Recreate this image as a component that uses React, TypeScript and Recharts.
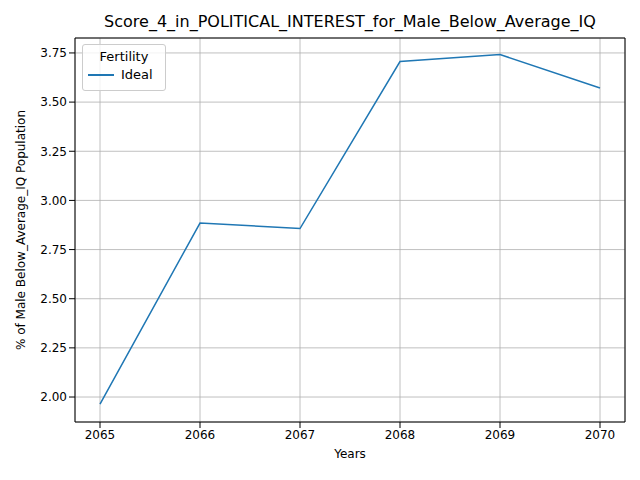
import { LineChart, Line, XAxis, YAxis, CartesianGrid } from 'recharts'

const years = [2065, 2066, 2067, 2068, 2069, 2070]
const ideal = [1.964, 2.885, 2.857, 3.706, 3.742, 3.572]
const yTicks = [2.0, 2.25, 2.5, 2.75, 3.0, 3.25, 3.5, 3.75]

const data = years.map((y, i) => ({ year: y, ideal: ideal[i] }))

const font = 'DejaVu Sans'

const App = () => {
  return (
    <div style={{ position: 'absolute', left: 0, top: 0, width: 640, height: 480, background: '#fff', fontFamily: font }}>
      <div style={{ position: 'absolute', top: 12, left: 75, width: 550, textAlign: 'center', fontSize: 16, color: '#000' }}>
        Score_4_in_POLITICAL_INTEREST_for_Male_Below_Average_IQ
      </div>
      <LineChart width={640} height={480} data={data} margin={{ top: 38, right: 15, left: 15, bottom: 18 }}>
        <CartesianGrid stroke="#b0b0b0" strokeWidth={0.8} />
        <XAxis
          dataKey="year"
          type="number"
          domain={[2064.75, 2070.25]}
          ticks={years}
          height={40}
          tick={{ fontSize: 12, fill: '#000', fontFamily: font }}
          tickLine={{ stroke: '#000' }}
          axisLine={{ stroke: '#000' }}
          label={{ value: 'Years', position: 'insideBottom', offset: 4, fontSize: 12, fill: '#000', fontFamily: font }}
        />
        <YAxis
          type="number"
          domain={[1.873, 3.826]}
          ticks={yTicks}
          width={60}
          tickFormatter={(v: number) => v.toFixed(2)}
          tick={{ fontSize: 12, fill: '#000', fontFamily: font }}
          tickLine={{ stroke: '#000' }}
          axisLine={{ stroke: '#000' }}
          label={{ value: '% of Male Below_Average_IQ Population', angle: -90, position: 'insideLeft', offset: 0, dx: 6, style: { textAnchor: 'middle' }, fontSize: 12, fill: '#000', fontFamily: font }}
        />
        <Line dataKey="ideal" stroke="#1f77b4" strokeWidth={1.5} dot={false} isAnimationActive={false} />
        <line x1={625} y1={38} x2={625} y2={422} stroke="#000" />
        <line x1={75} y1={38} x2={625} y2={38} stroke="#000" />
      </LineChart>
      <div style={{ position: 'absolute', left: 82, top: 44, width: 82, height: 45, border: '1px solid #ccc', borderRadius: 3, background: 'rgba(255,255,255,0.8)', fontSize: 13 }}>
        <div style={{ textAlign: 'center', marginTop: 4 }}>Fertility</div>
        <div style={{ display: 'flex', alignItems: 'center', marginTop: 3, marginLeft: 5 }}>
          <div style={{ width: 26, height: 2, background: '#1f77b4', marginRight: 7 }} />
          <span>Ideal</span>
        </div>
      </div>
    </div>
  )
}

export default App
